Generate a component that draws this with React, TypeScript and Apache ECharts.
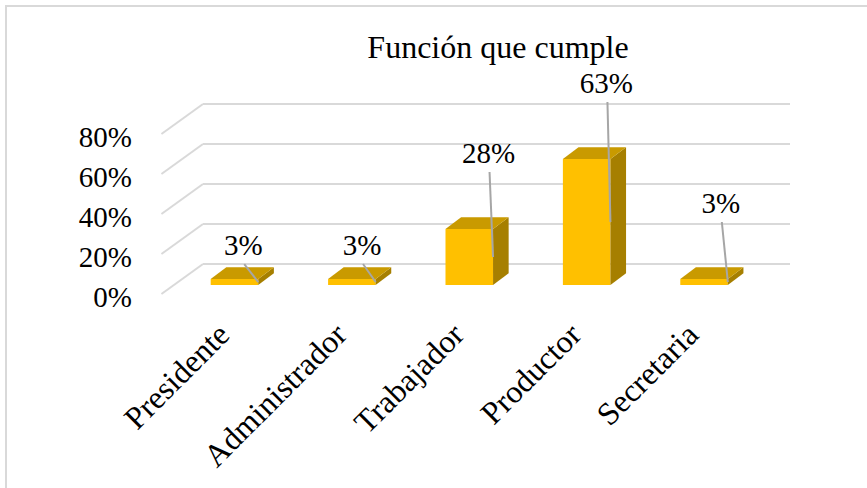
import React, { useEffect, useRef } from "react";
import * as echarts from "echarts";

const categories = ["Presidente", "Administrador", "Trabajador", "Productor", "Secretaria"];
const values = [3, 3, 28, 63, 3];
const yTicks = [0, 20, 40, 60, 80];
const titleText = "Función que cumple";

// manual label placement (px offsets from leader-line end), like Excel's moved labels
const labelOffsets: [number, number][] = [
  [-15, -37],
  [-13.6, -37],
  [-4.5, -104],
  [-4, -139],
  [-7, -79],
];

const FONT = "Liberation Serif";
const FRONT = "#FFC000";
const TOP = "#C99A00";
const SIDE = "#A67F00";
const GRID = "#d9d9d9";
const LEADER = "#A6A6A6";

export default function App() {
  const ref = useRef<HTMLDivElement>(null);
  useEffect(() => {
    if (!ref.current) return;
    const chart = echarts.init(ref.current, null, { renderer: "svg" });
    const option: any = {
      animation: false,
      backgroundColor: "#ffffff",
      textStyle: { fontFamily: FONT },
      title: {
        text: titleText,
        left: 493,
        top: 26,
        textAlign: "center",
        textStyle: { fontSize: 32, fontWeight: "normal", fontFamily: FONT, color: "#000" },
      },
      graphic: [
        {
          type: "rect",
          silent: true,
          z: -1,
          shape: { x: 6, y: 6, width: 900, height: 600 },
          style: { fill: "none", stroke: GRID, lineWidth: 2 },
        },
      ],
      grid: [
        { left: 203, right: 77, top: 104, bottom: 224 },
        { left: 165, right: 116, top: 137, bottom: 191 },
      ],
      xAxis: [
        {
          type: "category",
          gridIndex: 0,
          data: categories,
          axisLine: { show: false },
          axisTick: { show: false },
          axisLabel: { show: false },
        },
        {
          type: "category",
          gridIndex: 1,
          data: categories,
          axisLine: { show: false },
          axisTick: { show: false },
          axisLabel: { rotate: 45, margin: 32, fontSize: 32, fontFamily: FONT, color: "#000" },
        },
      ],
      yAxis: [
        {
          type: "value",
          gridIndex: 0,
          min: 0,
          max: 80,
          interval: 20,
          axisLine: { show: false },
          axisTick: { show: false },
          axisLabel: { show: false },
          splitLine: { lineStyle: { color: GRID, width: 2 } },
        },
        {
          type: "value",
          gridIndex: 1,
          min: 0,
          max: 80,
          interval: 20,
          axisLine: { show: false },
          axisTick: { show: false },
          splitLine: { show: false },
          axisLabel: {
            formatter: (v: number) => `${v}%`,
            margin: 33,
            fontSize: 29,
            fontFamily: FONT,
            color: "#000",
          },
        },
      ],
      series: [
        {
          type: "custom",
          xAxisIndex: 0,
          yAxisIndex: 0,
          clip: false,
          silent: true,
          data: yTicks.map((t) => [0, t]),
          renderItem: (params: any, api: any) => {
            const p = api.coord([api.value(0), api.value(1)]);
            const bw = api.size([1, 0])[0];
            const x = p[0] - bw / 2;
            return {
              type: "line",
              shape: { x1: x, y1: p[1], x2: x - 0.354 * bw, y2: p[1] + 0.256 * bw },
              style: { stroke: GRID, lineWidth: 2 },
            };
          },
        },
        {
          type: "custom",
          xAxisIndex: 0,
          yAxisIndex: 0,
          clip: false,
          silent: true,
          data: values.map((v, i) => [i, v]),
          renderItem: (params: any, api: any) => {
            const i = api.value(0);
            const v = api.value(1);
            const p0 = api.coord([i, 0]);
            const pv = api.coord([i, v]);
            const bw = api.size([1, 0])[0];
            const h = p0[1] - pv[1];
            const w = bw * 0.405;
            const cx = p0[0] - bw * 0.232;
            const x0 = cx - w / 2;
            const x1 = cx + w / 2;
            const yb = p0[1] + bw * 0.179;
            const yt = yb - h;
            const dx = bw * 0.133;
            const dy = -bw * 0.1;
            const ex = x1;
            const ey = yb - h / 2;
            const off = labelOffsets[params.dataIndex] || [0, -40];
            const lx = ex + off[0];
            const ly = ey + off[1];
            return {
              type: "group",
              children: [
                {
                  type: "polygon",
                  shape: { points: [[x0, yb], [x1, yb], [x1, yt], [x0, yt]] },
                  style: { fill: FRONT },
                },
                {
                  type: "polygon",
                  shape: { points: [[x1, yb], [x1 + dx, yb + dy], [x1 + dx, yt + dy], [x1, yt]] },
                  style: { fill: SIDE },
                },
                {
                  type: "polygon",
                  shape: { points: [[x0, yt], [x1, yt], [x1 + dx, yt + dy], [x0 + dx, yt + dy]] },
                  style: { fill: TOP },
                },
                {
                  type: "line",
                  shape: { x1: lx + 1, y1: ly + 19, x2: ex, y2: ey },
                  style: { stroke: LEADER, lineWidth: 2 },
                },
                {
                  type: "text",
                  x: lx,
                  y: ly,
                  style: {
                    text: `${v}%`,
                    fontSize: 29,
                    fontFamily: FONT,
                    fill: "#000",
                    align: "center",
                    verticalAlign: "middle",
                  },
                },
              ],
            };
          },
        },
      ],
    };
    chart.setOption(option);
    return () => chart.dispose();
  }, []);
  return (
    <div
      ref={ref}
      style={{ position: "fixed", left: 0, top: 0, width: 867, height: 488, background: "#fff" }}
    />
  );
}
